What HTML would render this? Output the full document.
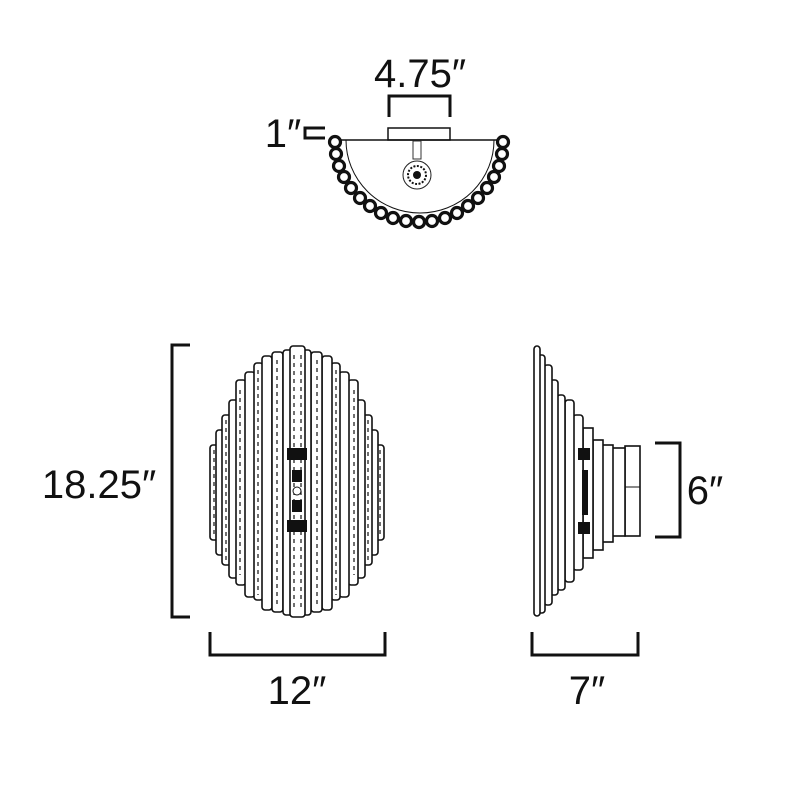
<!DOCTYPE html>
<html><head><style>html,body{margin:0;padding:0;background:#fff}svg{display:block}</style></head>
<body>
<svg width="800" height="800" viewBox="0 0 800 800" xmlns="http://www.w3.org/2000/svg" font-family="Liberation Sans, sans-serif">
<rect width="800" height="800" fill="#fff"/>
<!-- TOP VIEW -->
<text x="420" y="87" font-size="40" text-anchor="middle" fill="#111">4.75″</text>
<path d="M389 117 V96 H450 V117" fill="none" stroke="#111" stroke-width="3"/>
<text x="283" y="147" font-size="40" text-anchor="middle" fill="#111">1″</text>
<path d="M325 128 H305 V138 H325" fill="none" stroke="#111" stroke-width="3"/>
<rect x="388" y="128" width="62" height="12" fill="#fff" stroke="#111" stroke-width="1.5"/>
<line x1="333" y1="140" x2="505" y2="140" stroke="#111" stroke-width="1.5"/>
<path d="M346 140 A73 72 0 0 0 494 140" fill="none" stroke="#111" stroke-width="1"/>
<rect x="413" y="141" width="8" height="18" fill="none" stroke="#333" stroke-width="1"/>
<circle cx="417" cy="175" r="14" fill="none" stroke="#222" stroke-width="1"/>
<circle cx="417" cy="175" r="9" fill="none" stroke="#111" stroke-width="2" stroke-dasharray="2 1.5"/>
<circle cx="417" cy="175" r="4" fill="#111"/>
<g id="beads" fill="#fff" stroke="#111" stroke-width="3.2">
<circle cx="503" cy="142" r="5.5"/><circle cx="502" cy="154" r="5.5"/><circle cx="499" cy="166" r="5.5"/><circle cx="494" cy="177" r="5.5"/><circle cx="487" cy="188" r="5.5"/><circle cx="478" cy="198" r="5.5"/><circle cx="468" cy="206" r="5.5"/><circle cx="457" cy="213" r="5.5"/><circle cx="445" cy="218" r="5.5"/><circle cx="432" cy="221" r="5.5"/><circle cx="419" cy="222" r="5.5"/>
</g>
<use href="#beads" transform="translate(838,0) scale(-1,1)"/>

<!-- FRONT VIEW -->
<path d="M190 345 H172 V617 H190" fill="none" stroke="#111" stroke-width="3"/>
<text x="99" y="498" font-size="40" text-anchor="middle" fill="#111">18.25″</text>
<path d="M210 632 V655 H385 V632" fill="none" stroke="#111" stroke-width="3"/>
<text x="297" y="704" font-size="40" text-anchor="middle" fill="#111">12″</text>
<g id="cols" fill="#fff" stroke="#111" stroke-width="1.6">
<rect x="210" y="445" width="9" height="95" rx="3"/>
<rect x="216" y="430" width="9" height="125" rx="3"/>
<rect x="222" y="415" width="9" height="150" rx="3"/>
<rect x="229" y="400" width="9" height="178" rx="3"/>
<rect x="236" y="380" width="10" height="205" rx="3"/>
<rect x="245" y="372" width="10" height="225" rx="3"/>
<rect x="254" y="363" width="9" height="237" rx="3"/>
<rect x="262" y="356" width="10" height="254" rx="3"/>
<rect x="272" y="352" width="11" height="260" rx="3"/>
<rect x="283" y="350" width="10" height="265" rx="3"/>
<g stroke-dasharray="4 4" stroke-width="1.2"><line x1="214" y1="450" x2="214" y2="535"/><line x1="226" y1="420" x2="226" y2="560"/><line x1="240" y1="390" x2="240" y2="575"/><line x1="258" y1="370" x2="258" y2="595"/><line x1="277" y1="360" x2="277" y2="605"/></g>
</g>
<use href="#cols" transform="translate(594,0) scale(-1,1)"/>
<rect x="290" y="346" width="15" height="271" rx="3" fill="#fff" stroke="#111" stroke-width="1.6"/>
<g stroke="#111" stroke-dasharray="4 4" stroke-width="1.2"><line x1="294" y1="355" x2="294" y2="610"/><line x1="301" y1="355" x2="301" y2="610"/></g>
<g fill="#111">
<rect x="287" y="448" width="20" height="12"/><rect x="287" y="520" width="20" height="12"/>
<rect x="292" y="470" width="10" height="12"/><rect x="292" y="500" width="10" height="12"/>
</g>
<circle cx="297" cy="491" r="4" fill="#fff" stroke="#111"/>

<!-- SIDE VIEW -->
<g fill="#fff" stroke="#111" stroke-width="1.6">
<rect x="625" y="446" width="15" height="90"/>
<rect x="612" y="448" width="13" height="88"/>
<rect x="602" y="445" width="11" height="97"/>
<rect x="593" y="440" width="10" height="110"/>
<rect x="583" y="428" width="10" height="130"/>
<rect x="573" y="415" width="10" height="155" rx="3"/>
<rect x="565" y="400" width="9" height="182" rx="3"/>
<rect x="557" y="395" width="8" height="195" rx="3"/>
<rect x="550" y="380" width="8" height="215" rx="3"/>
<rect x="544" y="365" width="8" height="240" rx="3"/>
<rect x="538" y="355" width="7" height="258" rx="3"/>
<rect x="534" y="346" width="6" height="270" rx="3"/>
</g>
<line x1="625" y1="487" x2="640" y2="487" stroke="#111"/>
<g fill="#111"><rect x="578" y="448" width="12" height="12"/><rect x="578" y="522" width="12" height="12"/><rect x="582" y="470" width="6" height="45"/></g>
<path d="M655 443 H680 V537 H655" fill="none" stroke="#111" stroke-width="3"/>
<text x="705" y="504" font-size="40" text-anchor="middle" fill="#111">6″</text>
<path d="M532 632 V655 H638 V632" fill="none" stroke="#111" stroke-width="3"/>
<text x="587" y="704" font-size="40" text-anchor="middle" fill="#111">7″</text>
</svg>
</body></html>
